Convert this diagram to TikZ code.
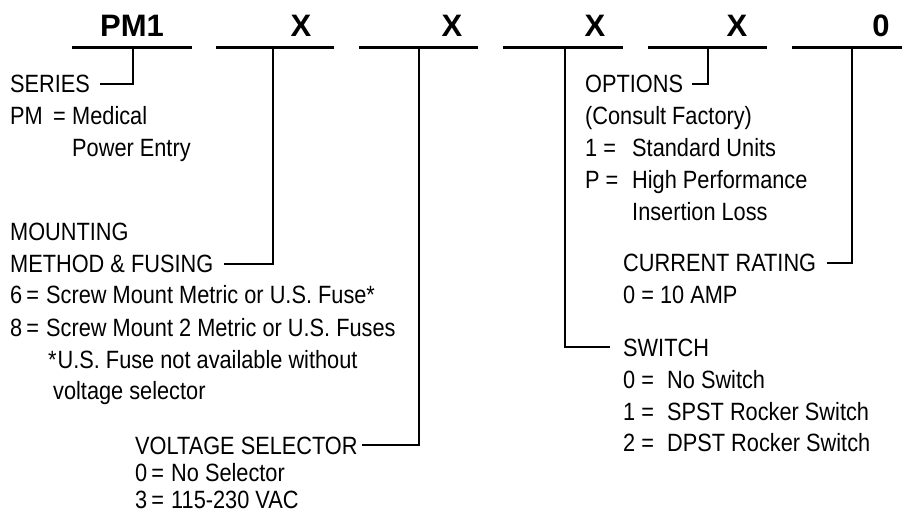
\documentclass[tikz,border=0pt]{standalone}
\usepackage{fontspec}
\setmainfont{Liberation Sans}[FakeStretch=0.87]
\newfontfamily\hdrfont{Liberation Sans}
\begin{document}
\begin{tikzpicture}[x=1pt,y=-1pt,
  txt/.style={anchor=base west, inner sep=0pt, font=\fontsize{25}{30}\selectfont},
  hdr/.style={anchor=base, inner sep=0pt, font=\hdrfont\bfseries\fontsize{31}{36}\selectfont},
  bar/.style={line width=3pt},
  conn/.style={line width=1.3pt}]
\useasboundingbox (0,0) rectangle (902,521);

% header bars and labels
\draw[bar] (72,48) -- (192,48);
\draw[bar] (216,48) -- (334,48);
\draw[bar] (359,48) -- (478,48);
\draw[bar] (503,48) -- (623,48);
\draw[bar] (648,48) -- (767,48);
\draw[bar] (792,48) -- (902,48);
\node[hdr] (h1) at (132,37) {PM1};
\node[hdr] (h2) at (301,37) {X};
\node[hdr] (h3) at (452,37) {X};
\node[hdr] (h4) at (595,37) {X};
\node[hdr] (h5) at (737,37) {X};
\node[hdr] (h6) at (881,37) {0};

\coordinate (b1) at (133,48);
\coordinate (b2) at (273,48);
\coordinate (b3) at (419,48);
\coordinate (b4) at (565,48);
\coordinate (b5) at (708,48);
\coordinate (b6) at (852,48);

% left column
\node[txt] (series) at (10,93) {SERIES};
\node[txt] (pm) at (10,125) {PM};
\node[txt] (pmeq) at (53,125) {=};
\node[txt] (pmmed) at (72,125) {Medical};
\node[txt] (pmpow) at (72,157) {Power Entry};
\node[txt] (mount) at (10,241) {MOUNTING};
\node[txt] (method) at (10,273) {METHOD \& FUSING};
\node[txt] (m6) at (10,304) {6\kern4pt=};
\node[txt] (m6t) at (46,304) {Screw Mount Metric or U.S. Fuse*};
\node[txt] (m8) at (10,336) {8\kern4pt=};
\node[txt] (m8t) at (46,336) {Screw Mount 2 Metric or U.S. Fuses};
\node[txt] (star) at (48,368) {*\kern1ptU.S. Fuse not available without};
\node[txt] (starb) at (53,399) {voltage selector};
\node[txt] (volt) at (135,454) {VOLTAGE SELECTOR};
\node[txt] (v0) at (135,481) {0\kern4pt=};
\node[txt] (v0t) at (171,481) {No Selector};
\node[txt] (v3) at (135,508) {3\kern4pt=};
\node[txt] (v3t) at (171,508) {115-230 VAC};

% right column
\node[txt] (opt) at (585,93) {OPTIONS};
\node[txt] (consult) at (585,125) {(Consult Factory)};
\node[txt] (o1) at (585,157) {1 =};
\node[txt] (o1t) at (632,157) {Standard Units};
\node[txt] (op) at (585,189) {P =};
\node[txt] (opt1) at (632,189) {High Performance};
\node[txt] (opt2) at (632,221) {Insertion Loss};
\node[txt] (cur) at (623,272) {CURRENT RATING};
\node[txt] (cur0) at (623,304) {0 = 10 AMP};
\node[txt] (sw) at (623,356) {SWITCH};
\node[txt] (s0) at (623,388) {0 =};
\node[txt] (s0t) at (667,388) {No Switch};
\node[txt] (s1) at (623,420) {1 =};
\node[txt] (s1t) at (667,420) {SPST Rocker Switch};
\node[txt] (s2) at (623,451) {2 =};
\node[txt] (s2t) at (667,451) {DPST Rocker Switch};

% connectors
\coordinate (c1) at (100,84);
\coordinate (c2) at (224,264);
\coordinate (c3) at (362,445);
\coordinate (c4) at (610,347);
\coordinate (c5) at (692,84);
\coordinate (c6) at (827,263);
\draw[conn] (c1) -| (b1);
\draw[conn] (c2) -| (b2);
\draw[conn] (c3) -| (b3);
\draw[conn] (c4) -| (b4);
\draw[conn] (c5) -| (b5);
\draw[conn] (c6) -| (b6);
\end{tikzpicture}
\end{document}
